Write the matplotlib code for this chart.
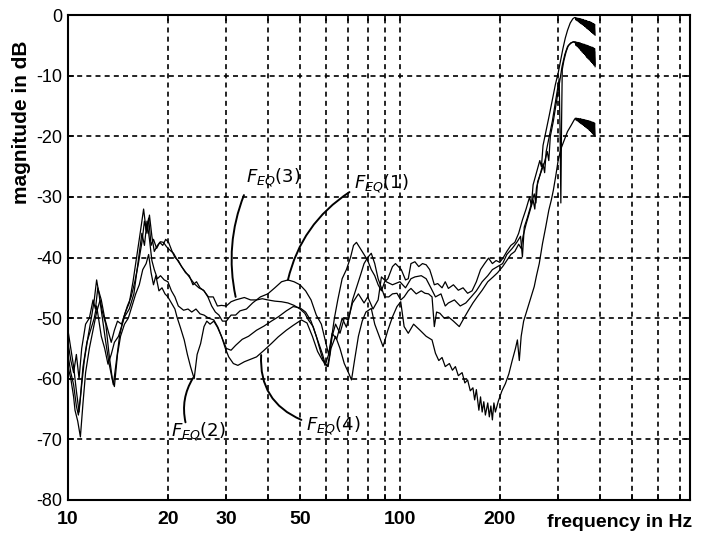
import matplotlib
matplotlib.use("Agg")
import matplotlib.pyplot as plt
from matplotlib.ticker import FixedLocator, NullFormatter

plt.rcParams['font.family'] = ['Liberation Sans', 'DejaVu Sans']

# F_EQ(1): hump near 46 Hz, highest resonance peak
f1_hz = [10.0, 10.2, 10.4, 10.6, 10.8, 11.0, 11.3, 11.6, 11.9, 12.1, 12.3, 12.6, 12.9, 13.2, 13.5,
         13.8, 14.1, 14.5, 14.9, 15.3, 15.7, 16.1, 16.5, 16.9, 17.2, 17.5, 17.8, 18.1, 18.5, 18.9,
         19.3, 19.7, 20.1, 20.6, 21.0, 21.5, 22.0, 22.6, 23.2, 23.8, 24.4, 25.0, 25.7, 26.4, 27.1,
         27.8, 28.5, 29.2, 30.0, 31.0, 32.0, 33.0, 34.5, 36.0, 38.0, 40.0, 42.0, 44.0, 46.0, 48.0,
         50.0, 52.0, 54.0, 56.0, 58.0, 59.5, 61.0, 62.0, 63.5, 65.0, 67.0, 69.0, 71.0, 72.5, 74.0,
         76.0, 78.0, 80.0, 82.0, 84.0, 86.0, 88.0, 90.0, 92.0, 95.0, 97.0, 99.0, 101.0, 104.0, 106.0,
         108.0, 111.0, 114.0, 117.0, 120.0, 123.0, 125.0, 127.0, 130.0, 134.0, 137.0, 140.0, 145.0,
         150.0, 155.0, 160.0, 165.0, 170.0, 175.0, 180.0, 185.0, 190.0, 195.0, 200.0, 205.0, 210.0,
         216.0, 222.0, 228.0, 234.0, 240.0, 246.0, 249.0, 252.0, 258.0, 264.0, 267.0, 270.0, 276.0,
         282.0, 288.0, 294.0, 300.0, 305.0, 310.0, 315.0, 320.0, 326.0, 332.0, 336.0,
         338.0, 339.5, 341.0, 342.5, 344.0, 345.5, 347.0, 348.5, 350.0, 351.5, 353.0, 354.5, 356.0,
         357.5, 359.0, 360.5, 362.0, 363.5, 365.0, 366.5, 368.0, 369.5, 371.0, 372.5, 374.0, 375.5,
         377.0, 378.5, 380.0, 381.5, 383.0, 384.5, 386.0, 387.5]
f1_db = [-54, -57, -59, -56, -60, -55, -51, -50, -47, -48.5, -45, -47, -50, -52, -54,
         -52, -50.5, -51, -49, -47.5, -44, -40, -36, -32, -35.5, -33.5, -38, -37, -38.5, -37.5,
         -38, -37, -37.5, -39, -40, -40.5, -41.5, -42.5, -43, -44.5, -44, -45, -45.5, -46.5, -48,
         -49, -49.5, -50.5, -50.5, -49.5, -49.5, -48.8, -48.5, -47.5, -46.5, -46, -45, -44, -43.7, -44,
         -44.5, -45.5, -47, -49.5, -51, -53.5, -56, -54, -50, -47, -43.5, -42, -40, -38, -37.5,
         -38.5, -39.5, -40.5, -42, -43, -44.5, -45.5, -44, -43.5, -41.5, -41, -41.5, -42, -43.7, -43.5,
         -41, -40.7, -41.5, -41, -41.2, -42, -43.2, -44.5, -44.3, -45, -44, -45.1, -44.5,
         -45.4, -45, -45.9, -45.5, -44, -42, -41, -40.1, -41, -40.5, -40.8, -40, -39,
         -38, -37.5, -36, -33.8, -32, -30, -31.5, -28, -26, -24, -25, -21.5, -19,
         -16.5, -14, -11.5, -9.5, -7.5, -5.5, -3.8, -2.5, -1.3, -0.6, -0.4,
         -0.4, -0.8, -0.45, -0.95, -0.5, -1.1, -0.55, -1.25, -0.6, -1.4, -0.65, -1.55, -0.7,
         -1.7, -0.8, -1.85, -0.85, -2.0, -0.9, -2.2, -1.0, -2.35, -1.05, -2.5, -1.1, -2.7,
         -1.2, -2.85, -1.3, -3.0, -1.4, -3.15, -1.5, -3.3]

# F_EQ(2): deep notch near 24 Hz
f2_hz = [10.0, 10.2, 10.4, 10.5, 10.7, 10.9, 11.1, 11.3, 11.6, 11.9, 12.2, 12.5, 12.7, 13.0, 13.3,
         13.6, 13.8, 14.1, 14.4, 14.8, 15.2, 15.6, 16.0, 16.4, 16.8, 17.2, 17.5, 17.8, 18.1, 18.4,
         18.8, 19.2, 19.6, 20.0, 20.5, 21.0, 21.3, 21.8, 22.4, 22.9, 23.4, 24.0, 24.5, 25.1, 25.7,
         26.2, 26.8, 27.5, 28.2, 29.0, 30.0, 31.0, 32.0, 33.5, 35.0, 37.0, 39.0, 41.0, 43.0, 45.5,
         47.7, 50.0, 52.0, 54.0, 56.0, 58.0, 59.5, 61.0, 62.5, 64.5, 67.0, 69.0, 72.0, 75.0, 78.0,
         80.0, 83.0, 86.0, 88.0, 91.0, 95.0, 100.0, 104.0, 108.0, 111.0, 116.0, 120.0, 124.0, 128.0,
         133.0, 137.0, 140.0, 146.0, 152.0, 158.0, 164.0, 170.0, 177.0, 184.0, 190.0, 197.0, 204.0,
         210.0, 218.0, 225.0, 231.0, 234.0, 237.0, 242.0, 248.0, 254.0, 257.0, 260.0, 266.0, 272.0,
         278.0, 281.0, 284.0, 290.0, 296.0, 302.0, 308.0, 314.0, 320.0, 327.0, 333.0, 336.0,
         338.0, 339.5, 341.0, 342.5, 344.0, 345.5, 347.0, 348.5, 350.0, 351.5, 353.0, 354.5, 356.0,
         357.5, 359.0, 360.5, 362.0, 363.5, 365.0, 366.5, 368.0, 369.5, 371.0, 372.5, 374.0, 375.5,
         377.0, 378.5, 380.0, 381.5, 383.0, 384.5, 386.0, 387.5]
f2_db = [-58, -60, -63, -65.2, -67, -69.6, -64, -59, -55, -52, -49, -47, -49, -51, -56,
         -60, -61.3, -56, -53, -51, -50, -48, -46, -44.5, -42, -41, -39.5, -42.5, -44.5, -43,
         -45.5, -45, -46, -46.5, -47.5, -48.5, -49.8, -51.5, -53.6, -56, -58, -60, -56, -54.2, -51.4,
         -50.5, -51, -50.5, -51.5, -53, -55, -55.3, -54.5, -53.5, -53, -52, -51.3, -50.5, -49.8, -48.8,
         -48.1, -48.3, -49, -50.5, -53, -56, -57.8, -56, -52.5, -53.5, -50, -51.5, -47.5, -46, -47.5,
         -46.5, -48.5, -47, -43.2, -44, -44.5, -44, -45, -43.5, -43.2, -43, -43.5, -45, -46.5,
         -46, -48, -47.5, -47, -48, -47.5, -46.5, -45.5, -44, -43, -42, -41.5, -41,
         -39.5, -38.5, -37.5, -36.5, -39.9, -35, -33.5, -31.5, -29.5, -31, -27.5, -26, -24.5,
         -22.5, -24, -20, -17.5, -14.5, -11.5, -8.5, -6.5, -5.2, -4.6, -4.4, -4.4,
         -4.4, -4.8, -4.45, -5.0, -4.5, -5.2, -4.55, -5.4, -4.6, -5.6, -4.7, -5.8, -4.75,
         -6.0, -4.8, -6.2, -4.9, -6.4, -4.95, -6.6, -5.0, -6.8, -5.1, -7.0, -5.2, -7.2,
         -5.25, -7.4, -5.3, -7.6, -5.4, -7.9, -5.5, -8.2]

# F_EQ(3): flat stretch around -47 dB between 30 and 46 Hz
f3_hz = [10.0, 10.2, 10.4, 10.6, 10.8, 11.0, 11.2, 11.5, 11.8, 12.0, 12.2, 12.4, 12.7, 13.0, 13.3,
         13.7, 14.0, 14.3, 14.7, 15.1, 15.5, 15.9, 16.3, 16.7, 17.0, 17.3, 17.6, 17.9, 18.2, 18.6,
         19.0, 19.4, 19.8, 20.3, 20.8, 21.4, 22.0, 22.7, 23.4, 24.0, 24.8, 25.6, 26.5, 27.4, 28.2,
         29.0, 30.0, 31.0, 32.0, 33.0, 34.0, 35.5, 37.0, 38.5, 40.0, 42.0, 44.0, 46.0, 48.0, 50.0,
         51.7, 53.0, 54.8, 56.0, 57.4, 58.5, 59.5, 60.5, 61.5, 62.5, 64.0, 66.0, 68.0, 70.0, 72.0,
         74.0, 76.0, 78.0, 80.0, 82.0, 84.0, 86.0, 88.0, 90.0, 92.6, 95.0, 98.0, 100.6, 103.0, 106.0,
         108.0, 112.0, 116.0, 119.0, 122.0, 125.0, 127.0, 129.0, 132.0, 136.0, 140.0, 145.0, 151.0,
         156.0, 161.0, 166.0, 171.0, 177.0, 184.0, 191.0, 197.0, 204.0, 210.0, 216.0, 222.0, 228.0,
         232.0, 235.0, 240.0, 246.0, 252.0, 255.0, 258.0, 264.0, 270.0, 273.0, 276.0, 282.0, 288.0,
         294.0, 299.0, 302.0, 304.0, 305.5, 307.0, 308.5, 312.0, 317.0, 322.0, 328.0, 334.0, 336.0,
         338.0, 339.5, 341.0, 342.5, 344.0, 345.5, 347.0, 348.5, 350.0, 351.5, 353.0, 354.5, 356.0,
         357.5, 359.0, 360.5, 362.0, 363.5, 365.0, 366.5, 368.0, 369.5, 371.0, 372.5, 374.0, 375.5,
         377.0, 378.5, 380.0, 381.5, 383.0, 384.5, 386.0, 387.5]
f3_db = [-52, -55, -58, -62, -65.5, -61, -57, -53, -49.5, -47, -43.7, -46, -50, -54, -57.5,
         -61, -57, -53, -50, -48, -46.5, -44, -41, -37.5, -34, -36, -33, -36.5, -39, -38,
         -37.4, -37.5, -38.2, -38.8, -39.3, -40.5, -41.5, -42.5, -43.5, -44.3, -45, -45.4, -46.5, -46.5, -48,
         -47.9, -48, -47.3, -47, -46.8, -46.6, -47, -47, -46.8, -47, -47.2, -47.3, -47.5, -47.9, -48.5,
         -49.2, -50.3, -51.4, -53, -54.7, -56, -57.5, -58, -56, -53, -51, -52.5, -50, -50.3, -47,
         -45, -43, -41, -40, -39.3, -41, -43.5, -45, -46.5, -46.5, -46, -45.9, -47, -46.5, -45.5,
         -45.1, -46, -45.5, -45.9, -46, -46.5, -51.4, -49, -49.2, -50, -49.8, -50.5, -51.4,
         -50, -48.7, -47.5, -46.5, -45.4, -44, -43.2, -42.5, -41.5, -40.5, -39.5, -39, -37.8,
         -38.5, -36.5, -34.5, -32.5, -30.5, -32, -28.5, -26.5, -24.5, -26, -22.5, -20, -17.5,
         -14.5, -12, -10.5, -20, -31, -18, -9, -7.5, -6, -5, -4.6, -4.4, -4.5,
         -4.6, -5.0, -4.65, -5.2, -4.7, -5.4, -4.8, -5.6, -4.9, -5.85, -5.0, -6.1, -5.05,
         -6.3, -5.1, -6.5, -5.2, -6.75, -5.3, -7.0, -5.4, -7.2, -5.5, -7.4, -5.6, -7.6,
         -5.7, -7.8, -5.8, -8.0, -5.9, -8.25, -6.0, -8.5]

# F_EQ(4): lowest between 30 and 40 Hz, deep trough near 190 Hz
f4_hz = [10.0, 10.2, 10.4, 10.6, 10.75, 10.9, 11.1, 11.4, 11.7, 12.0, 12.2, 12.4, 12.6, 12.9, 13.2,
         13.5, 13.8, 14.2, 14.8, 15.3, 15.8, 16.3, 16.7, 17.0, 17.3, 17.6, 17.9, 18.2, 18.6, 19.0,
         19.5, 20.0, 20.5, 21.0, 21.5, 22.3, 23.0, 23.6, 24.3, 25.0, 25.7, 26.5, 27.5, 28.3, 29.0,
         29.8, 30.5, 31.5, 32.5, 34.0, 35.5, 37.0, 39.0, 41.0, 43.0, 45.5, 47.7, 50.5, 52.5, 54.5,
         56.5, 58.5, 60.8, 62.0, 64.0, 66.0, 68.0, 70.0, 71.5, 73.0, 75.0, 77.0, 79.0, 82.0, 84.0,
         86.0, 89.0, 92.0, 95.0, 98.0, 100.6, 103.0, 106.0, 110.0, 115.0, 120.0, 125.0, 128.0, 131.0,
         134.0, 137.0, 141.0, 144.0, 147.0, 150.0, 154.0, 157.0, 160.0, 163.0, 166.0, 168.0, 170.0,
         173.0, 175.0, 177.0, 179.0, 181.0, 184.0, 186.0, 188.0, 190.0, 192.0, 194.0, 198.0,
         203.0, 208.0, 213.0, 218.0, 223.0, 226.0, 229.0, 232.0, 236.0, 240.0, 247.0, 254.0, 258.0,
         263.0, 269.0, 275.0, 281.0, 286.0, 290.0, 295.0, 300.0, 306.0, 313.0, 320.0, 328.0, 335.0,
         338.0, 339.5, 341.0, 342.5, 344.0, 345.5, 347.0, 348.5, 350.0, 351.5, 353.0, 354.5, 356.0,
         357.5, 359.0, 360.5, 362.0, 363.5, 365.0, 366.5, 368.0, 369.5, 371.0, 372.5, 374.0, 375.5,
         377.0, 378.5, 380.0, 381.5, 383.0, 384.5, 386.0, 387.5]
f4_db = [-56, -59, -61, -64.5, -66, -63, -58, -54, -52, -50, -48, -50.5, -53, -55, -57.6,
         -56, -54, -53, -49.8, -48.5, -46, -40.4, -36, -38, -34, -37, -40.5, -42, -43.5, -43,
         -43.7, -44, -45.5, -46.5, -48, -48.7, -48.5, -49, -48.5, -49.3, -49.5, -50, -50.3, -51.5, -53,
         -55, -56.4, -57.5, -57.8, -57.2, -56.8, -56.4, -55.3, -54.2, -53.1, -52, -51.2, -50.3, -50.8, -53,
         -55.5, -57, -58, -55, -53, -55, -57.5, -59, -60.2, -57, -53, -50.5, -49, -48.4, -51,
         -52.5, -54.7, -52, -49.8, -48.1, -47.3, -51.4, -52.5, -51, -52, -53, -53.6, -55.8, -57,
         -56.5, -58, -57.5, -58.6, -58, -59.5, -59, -60.7, -60.2, -62, -61.5, -63.5, -61.8,
         -65.2, -63, -65.5, -63.8, -66, -64, -66.3, -64.5, -66.8, -64, -65.5, -63.7,
         -62, -60.8, -59.2, -57, -55, -53.6, -57, -53, -50.5, -49.2, -47, -44.8, -43,
         -41, -37.7, -35, -32.2, -30.5, -28.9, -26.5, -23.9, -22, -20.6, -19.2, -18.2, -17.3,
         -17.0, -17.3, -17.0, -17.45, -17.05, -17.6, -17.1, -17.75, -17.1, -17.9, -17.15, -18.05, -17.2,
         -18.2, -17.25, -18.35, -17.3, -18.5, -17.35, -18.65, -17.4, -18.8, -17.45, -19.0, -17.5, -19.2,
         -17.6, -19.4, -17.65, -19.6, -17.7, -19.8, -17.8, -20.0]

xticks_major = [10, 20, 30, 50, 100, 200]
xticks_minor = [40, 60, 70, 80, 90, 300, 400, 500, 600, 700]
yticks = [0, -10, -20, -30, -40, -50, -60, -70, -80]

fig = plt.figure(figsize=(7.08, 5.41), dpi=100)
ax = fig.add_axes([0.096, 0.076, 0.879, 0.896])

for f, db in [(f1_hz, f1_db), (f2_hz, f2_db), (f3_hz, f3_db), (f4_hz, f4_db)]:
    ax.plot(f, db, color='black', lw=0.9)

ax.set_xscale('log')
ax.set_xlim(10, 750)
ax.set_ylim(-80, 0)

ax.xaxis.set_major_locator(FixedLocator(xticks_major))
ax.xaxis.set_minor_locator(FixedLocator(xticks_minor))
ax.xaxis.set_minor_formatter(NullFormatter())
ax.set_xticklabels([str(t) for t in xticks_major], fontweight='bold', fontsize=14)
ax.set_yticks(yticks)
ax.set_yticklabels([str(t) for t in yticks], fontsize=13)

ax.grid(True, which='both', color='black', lw=1.2, linestyle=(0, (3, 2.5)))
ax.tick_params(which='both', direction='in', top=True, right=True, length=4, width=1.2)
ax.tick_params(axis='x', which='major', pad=8)
ax.tick_params(axis='y', pad=4)
for s in ax.spines.values():
    s.set_linewidth(1.5)

ax.set_xlabel('frequency in Hz', fontweight='bold', fontsize=14, ha='left', va='center')
ax.xaxis.set_label_coords(0.77, -0.047)
ax.set_ylabel('magnitude in dB', fontweight='bold', fontsize=15, va='center')
ax.yaxis.set_label_coords(-0.074, 0.78)

# hand-written curve labels with pointer strokes
pen = dict(arrowstyle='-', color='black', lw=1.4, shrinkA=0, shrinkB=0)
ax.annotate('', xy=(32.0, -46.5), xytext=(33.9, -29.7),
            arrowprops=dict(pen, connectionstyle='arc3,rad=0.15'))
ax.text(34.4, -26.8, r'$F_{EQ}(3)$', fontsize=13, va='center', ha='left')

ax.annotate('', xy=(46.0, -43.7), xytext=(70.5, -29.2),
            arrowprops=dict(pen, connectionstyle='arc3,rad=0.2'))
ax.text(72.5, -27.8, r'$F_{EQ}(1)$', fontsize=13, va='center', ha='left')

ax.annotate('', xy=(23.8, -59.9), xytext=(22.6, -67.2),
            arrowprops=dict(pen, connectionstyle='arc3,rad=-0.2'))
ax.text(20.4, -68.8, r'$F_{EQ}(2)$', fontsize=13, va='center', ha='left')

ax.annotate('', xy=(38.2, -56.1), xytext=(50.5, -66.8),
            arrowprops=dict(pen, connectionstyle='arc3,rad=-0.35'))
ax.text(52.2, -67.8, r'$F_{EQ}(4)$', fontsize=13, va='center', ha='left')

fig.savefig('out.png', dpi=100)
